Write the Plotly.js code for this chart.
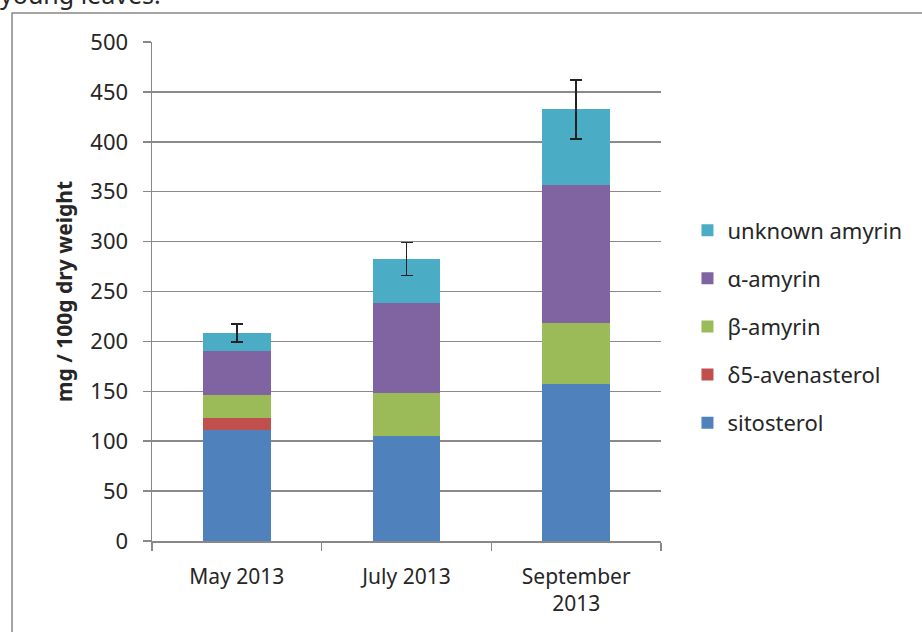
<!DOCTYPE html>
<html>
<head>
<meta charset="utf-8">
<script src="https://cdn.plot.ly/plotly-3.0.1.min.js"></script>
<style>html,body{margin:0;padding:0;background:#fff}#chart{width:922px;height:632px}</style>
</head>
<body>
<div id="chart"></div>
<script>
var categories = ["May 2013", "July 2013", "September<br>2013"];
var sitosterol = [111.5, 105.6, 157.5];
var avenasterol = [12, 0, 0];
var betaAmyrin = [22.5, 42.5, 61];
var alphaAmyrin = [44.5, 90.5, 138.5];
var unknownAmyrin = [18, 44, 75.5];
var totalError = [9, 16.5, 29.5];
var yTicks = [0, 50, 100, 150, 200, 250, 300, 350, 400, 450, 500];

var FONT = "Noto Sans, Open Sans, sans-serif";
var TXT = "#262626";
function mk(name, y, color, rank, extra) {
  var t = {type: "bar", name: name, x: categories, y: y, marker: {color: color},
    legendgroup: "g" + rank, legendrank: rank, hoverinfo: "y+name"};
  if (extra) for (var k in extra) t[k] = extra[k];
  return t;
}
var data = [
  mk("sitosterol", sitosterol, "#4F81BD", 5),
  mk("δ5-avenasterol", avenasterol, "#C0504D", 4),
  mk("β-amyrin", betaAmyrin, "#9BBB59", 3),
  mk("α-amyrin", alphaAmyrin, "#8064A2", 2),
  mk("unknown amyrin", unknownAmyrin, "#4BACC6", 1, {
    error_y: {type: "data", array: totalError, visible: true, color: "#222", thickness: 1.6, width: 6}
  })
];
var layout = {
  width: 922, height: 632,
  margin: {l: 152, r: 261, t: 42, b: 91, pad: 0},
  barmode: "stack",
  bargap: 0.6,
  paper_bgcolor: "#fff", plot_bgcolor: "#fff",
  font: {family: FONT, size: 21, color: TXT},
  showlegend: true,
  legend: {x: 1.052, y: 0.43, xanchor: "left", yanchor: "middle", traceorder: "grouped",
    tracegroupgap: 16.5, font: {family: FONT, size: 22, color: TXT}, itemwidth: 30},
  xaxis: {type: "category", showgrid: false, showline: true, linecolor: "#888", linewidth: 1.5,
    ticks: "outside", tickson: "boundaries", ticklen: 8, tickcolor: "#888", tickwidth: 1.5,
    ticklabelstandoff: 16,
    tickfont: {family: FONT, size: 21, color: TXT}, fixedrange: true},
  yaxis: {range: [0, 500], tickvals: yTicks, ticktext: yTicks.map(String), showgrid: true,
    gridcolor: "#8a8a8a", gridwidth: 1.5, showline: true, linecolor: "#888", linewidth: 1.5,
    ticks: "outside", ticklen: 8, tickcolor: "#888", tickwidth: 1.5, zeroline: false,
    ticklabelstandoff: 10,
    tickfont: {family: FONT, size: 22, color: TXT},
    title: {text: "<b>mg / 100g dry weight</b>", font: {family: FONT, size: 21, color: TXT}, standoff: 12}},
  shapes: [{type: "rect", xref: "paper", yref: "paper", x0: -0.275, x1: 2, y0: -1, y1: 1.058,
    line: {color: "#888", width: 1.5}, fillcolor: "rgba(0,0,0,0)", layer: "below"}],
  annotations: [{text: "young leaves.", xref: "paper", yref: "paper", x: -0.3, y: 1.06,
    xanchor: "left", yanchor: "bottom", showarrow: false, borderpad: 0,
    font: {family: FONT, size: 25, color: TXT}}]
};
Plotly.newPlot("chart", data, layout, {displayModeBar: false, staticPlot: true});
</script>
</body>
</html>
